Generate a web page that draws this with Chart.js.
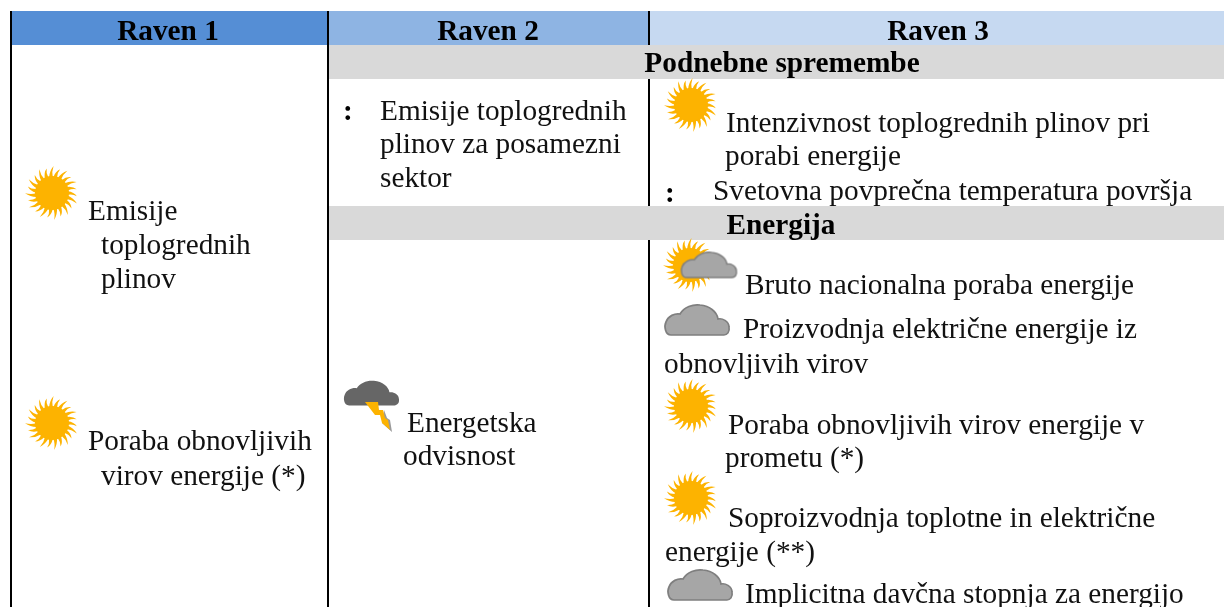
<!DOCTYPE html>
<html><head><meta charset="utf-8">
<style>html,body{margin:0;padding:0;background:#fff}canvas{display:block}</style>
<script src="https://cdn.jsdelivr.net/npm/chart.js@4"></script></head>
<body><canvas id="c" width="1224" height="607"></canvas>
<script>
const headers=[["Raven 1",168],["Raven 2",488],["Raven 3",938]];
const headerBands=[[12,327,"#558ED5"],[329,648,"#8EB4E3"],[650,1224,"#C6D9F1"]];
const sectionBands=[[45,79],[206,240]];
const sectionTitles=[["Podnebne spremembe",782,72],["Energija",781,234]];
const verticalRules=[[11,11,607],[328,11,607],[649,11,45],[649,79,206],[649,240,607]];
const boldMarks=[[":",343,120],[":",665,202]];
const textLines=[
["Emisije",88,220],["toplogrednih",101,254],["plinov",101,288],
["Poraba obnovljivih",88,450],["virov energije (*)",101,485],
["Emisije toplogrednih",380,120],["plinov za posamezni",380,153],["sektor",380,187],
["Energetska",407,432],["odvisnost",403,465],
["Intenzivnost toplogrednih plinov pri",726,132],["porabi energije",725,165],
["Svetovna povprečna temperatura površja",713,200],
["Bruto nacionalna poraba energije",745,294],
["Proizvodnja električne energije iz",743,338],["obnovljivih virov",664,373],
["Poraba obnovljivih virov energije v",728,434],["prometu (*)",725,467],
["Soproizvodnja toplotne in električne",728,527],["energije (**)",665,561],
["Implicitna davčna stopnja za energijo",745,603]];
const sunPoints=[{x:52,y:193},{x:52,y:423},{x:691,y:105},{x:690,y:265},{x:691,y:406},{x:691,y:498}];
const smallCloudPoints=[{x:709,y:265}];
const cloudPoints=[{x:697,y:320},{x:700,y:585}];
const stormPoints=[{x:372,y:407}];

function mk(w,h){const c=document.createElement('canvas');c.width=w;c.height=h;return c;}
function sunIcon(){
  const c=mk(56,56),g=c.getContext('2d');g.translate(28,28);g.fillStyle="#FDB300";
  g.beginPath();g.arc(0,0,17,0,Math.PI*2);g.fill();
  const n=23;
  for(let i=0;i<n;i++){
    const a=i/n*Math.PI*2,da=Math.PI*2/n*0.42;
    const R=i%2?27:25;
    g.beginPath();
    g.moveTo(16*Math.cos(a-da),16*Math.sin(a-da));
    g.quadraticCurveTo(22*Math.cos(a-da*.4),22*Math.sin(a-da*.4),R*Math.cos(a+da*1.1),R*Math.sin(a+da*1.1));
    g.quadraticCurveTo(21*Math.cos(a+da*.4),21*Math.sin(a+da*.4),16*Math.cos(a+da),16*Math.sin(a+da));
    g.closePath();g.fill();
  }
  return c;
}
function cloudPath(g){
  g.beginPath();
  g.moveTo(7,31);
  g.bezierCurveTo(1,31,0,22,2,18);
  g.bezierCurveTo(4,12,11,9,16,10);
  g.bezierCurveTo(20,3,29,0,36,1);
  g.bezierCurveTo(46,2,53,8,54,15);
  g.bezierCurveTo(58,14,65,17,65,23);
  g.bezierCurveTo(66,28,63,31,60,31);
  g.closePath();
}
function cloudIcon(sx,sy){
  const c=mk(Math.ceil(68*sx),Math.ceil(34*sy)),g=c.getContext('2d');
  g.translate(1,1);g.scale(sx,sy);cloudPath(g);
  g.fillStyle="#A6A6A6";g.fill();g.lineWidth=1.7;g.strokeStyle="#7F7F7F";g.stroke();return c;
}
function stormIcon(){
  const c=mk(58,54),g=c.getContext('2d');
  g.save();g.scale(.86,.82);g.fillStyle="#666666";cloudPath(g);g.fill();g.restore();
  g.fillStyle="#9a9a9a";
  g.beginPath();g.moveTo(41,30);g.lineTo(44,38);g.lineTo(47,40);g.lineTo(49,52);g.lineTo(39,43);g.closePath();g.fill();
  g.fillStyle="#FDB300";
  g.beginPath();g.moveTo(22,22);g.lineTo(35,22);g.lineTo(36,30);g.lineTo(40,30);g.lineTo(42,38);g.lineTo(45,40);g.lineTo(47,50);g.lineTo(39,43);g.lineTo(37,35);g.lineTo(32,35);g.closePath();g.fill();
  return c;
}
const bg={id:'tableBack',beforeDatasetsDraw(ch){
  const g=ch.ctx,X=ch.scales.x,Y=ch.scales.y;
  const fx=v=>X.getPixelForValue(v),fy=v=>Y.getPixelForValue(v);
  g.save();
  headerBands.forEach(b=>{g.fillStyle=b[2];g.fillRect(fx(b[0]),fy(11),fx(b[1])-fx(b[0]),fy(45)-fy(11));});
  sectionBands.forEach(b=>{g.fillStyle="#D9D9D9";g.fillRect(fx(329),fy(b[0]),fx(1224)-fx(329),fy(b[1])-fy(b[0]));});
  g.strokeStyle="#000";g.lineWidth=2;
  verticalRules.forEach(r=>{g.beginPath();g.moveTo(fx(r[0]),fy(r[1]));g.lineTo(fx(r[0]),fy(r[2]));g.stroke();});
  g.fillStyle="#000";g.textBaseline="alphabetic";
  g.font="bold 29.3px 'Liberation Serif'";g.textAlign="center";
  headers.forEach(h=>g.fillText(h[0],fx(h[1]),fy(40)));
  sectionTitles.forEach(s=>g.fillText(s[0],fx(s[1]),fy(s[2])));
  g.textAlign="left";
  boldMarks.forEach(s=>g.fillText(s[0],fx(s[1]),fy(s[2])));
  g.font="29.3px 'Liberation Serif'";g.fillStyle="#111";
  textLines.forEach(t=>g.fillText(t[0],fx(t[1]),fy(t[2])));
  g.restore();
}};
const ds=(d,s)=>({data:d,pointStyle:s,pointRadius:28,showLine:false,clip:0});
new Chart(document.getElementById('c'),{type:'scatter',
 data:{datasets:[ds(smallCloudPoints,cloudIcon(.86,.84)),ds(cloudPoints,cloudIcon(1,1)),ds(stormPoints,stormIcon()),ds(sunPoints,sunIcon())]},
 options:{responsive:false,animation:false,events:[],layout:{padding:0,autoPadding:false},
  plugins:{legend:{display:false},tooltip:{enabled:false}},
  scales:{x:{type:'linear',min:0,max:1224,display:false},y:{type:'linear',min:0,max:607,reverse:true,display:false}}},
 plugins:[bg]});
</script></body></html>
